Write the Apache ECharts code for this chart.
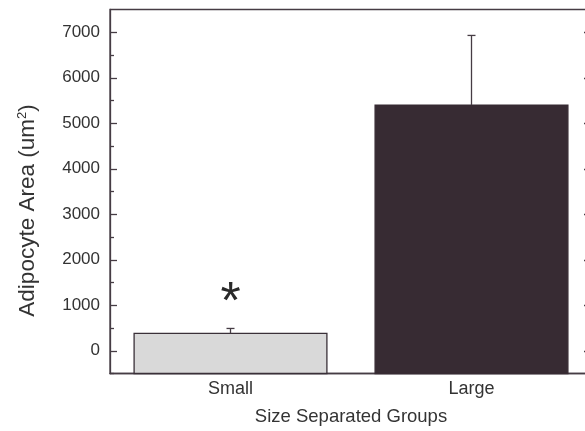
<!DOCTYPE html>
<html>
<head>
<meta charset="utf-8">
<script src="https://cdn.jsdelivr.net/npm/echarts@6/dist/echarts.min.js"></script>
<style>
html,body{margin:0;padding:0;background:#fff;}
#chart{width:585px;height:431px;}
</style>
</head>
<body>
<div id="chart"></div>
<script>
const categories = ['Small', 'Large'];
const meanValues = [380, 5400];
const errorValues = [110, 1530];
const significance = ['*', ''];
const significanceLevel = [1040, null];
const yTickLabels = [0, 1000, 2000, 3000, 4000, 5000, 6000, 7000];
const yMinorTicks = [-500, 500, 1500, 2500, 3500, 4500, 5500, 6500];
const yAxisTitle = 'Adipocyte Area (um';
const xAxisTitle = 'Size Separated Groups';

const Y_MIN = -500, Y_MAX = 7500;
const axisColor = '#463c44';
const textColor = '#333333';
const fontFamily = "'Liberation Sans', Arial, Helvetica, sans-serif";
const barFills = ['#d9d9d9', '#372b33'];
const barBorders = ['#3a3038', '#372b33'];

const chart = echarts.init(document.getElementById('chart'), null, {renderer: 'canvas'});

const commonY = {
  type: 'value', min: Y_MIN, max: Y_MAX, interval: 500,
  splitLine: {show: false}
};

const option = {
  animation: false,
  backgroundColor: '#ffffff',
  grid: {
    left: 110, top: 9.5, width: 482, height: 364,
    outerBoundsMode: 'none',
    containLabel: false,
    show: true, borderColor: axisColor, borderWidth: 1.3, backgroundColor: 'transparent'
  },
  xAxis: {
    type: 'category',
    data: categories,
    boundaryGap: true,
    axisLine: {show: true, onZero: false, lineStyle: {color: axisColor, width: 1.3}},
    axisTick: {show: false},
    axisLabel: {color: textColor, fontSize: 18, fontFamily: fontFamily, margin: 7},
    name: xAxisTitle,
    nameLocation: 'middle',
    nameGap: 34,
    nameTextStyle: {color: textColor, fontSize: 18.5, fontFamily: fontFamily}
  },
  yAxis: [
    Object.assign({}, commonY, {
      position: 'left',
      axisLine: {show: true, onZero: false, lineStyle: {color: axisColor, width: 1.3}},
      axisTick: {show: true, inside: true, length: 7, customValues: yTickLabels, lineStyle: {color: axisColor, width: 1.3}},
      axisLabel: {show: true, customValues: yTickLabels, formatter: function (v) { return String(v); },
        color: textColor, fontSize: 17, fontFamily: fontFamily, margin: 10},
      name: '{a|' + yAxisTitle + '}{s|2}{a|)}',
      nameLocation: 'middle',
      nameRotate: 90,
      nameGap: 70,
      nameTextStyle: {
        color: textColor, fontFamily: fontFamily, padding: [0, 38, 0, 0],
        rich: {
          a: {fontSize: 22.5, fontFamily: fontFamily, color: textColor},
          s: {fontSize: 13, fontFamily: fontFamily, color: textColor, verticalAlign: 'top', padding: [0, 0, 11, 0]}
        }
      }
    }),
    Object.assign({}, commonY, {
      position: 'left',
      axisLine: {show: false, onZero: false},
      axisTick: {show: true, inside: true, length: 4, customValues: yMinorTicks, lineStyle: {color: axisColor, width: 1.3}},
      axisLabel: {show: false}
    }),
    Object.assign({}, commonY, {
      position: 'right',
      axisLine: {show: true, onZero: false, lineStyle: {color: axisColor, width: 1.3}},
      axisTick: {show: true, inside: true, length: 8, customValues: yTickLabels, lineStyle: {color: axisColor, width: 1.3}},
      axisLabel: {show: false}
    })
  ],
  series: [
    {
      type: 'custom',
      yAxisIndex: 0,
      data: meanValues.map((v, i) => [i, v]),
      renderItem: function (params, api) {
        const i = api.value(0);
        const top = api.coord([i, api.value(1)]);
        const bottom = api.coord([i, Y_MIN]);
        const w = api.size([1, 0])[0] * 0.8;
        return {
          type: 'rect',
          shape: {x: top[0] - w / 2, y: top[1], width: w, height: bottom[1] - top[1]},
          style: {fill: barFills[params.dataIndex], stroke: barBorders[params.dataIndex], lineWidth: 1.3}
        };
      },
      z: 2
    },
    {
      type: 'custom',
      yAxisIndex: 0,
      data: meanValues.map((v, i) => [i, v, v + errorValues[i]]),
      renderItem: function (params, api) {
        const base = api.coord([api.value(0), api.value(1)]);
        const top = api.coord([api.value(0), api.value(2)]);
        const half = 4;
        const style = {stroke: axisColor, lineWidth: 1.3};
        return {
          type: 'group',
          children: [
            {type: 'line', shape: {x1: base[0], y1: base[1], x2: top[0], y2: top[1]}, style: style},
            {type: 'line', shape: {x1: top[0] - half, y1: top[1], x2: top[0] + half, y2: top[1]}, style: style}
          ]
        };
      },
      z: 3
    },
    {
      type: 'custom',
      yAxisIndex: 0,
      data: significance.map((s, i) => [i, significanceLevel[i] == null ? 0 : significanceLevel[i]]),
      renderItem: function (params, api) {
        const label = significance[params.dataIndex];
        if (!label) return null;
        const p = api.coord([api.value(0), api.value(1)]);
        return {
          type: 'text',
          x: p[0], y: p[1],
          style: {text: label, fontSize: 52, fontFamily: fontFamily, fill: '#2a2a2a', align: 'center', verticalAlign: 'middle'}
        };
      },
      z: 4
    }
  ]
};

chart.setOption(option);
</script>
</body>
</html>
